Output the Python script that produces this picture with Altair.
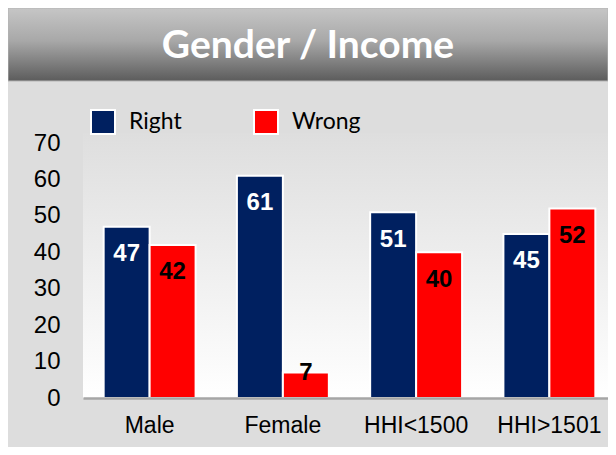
import altair as alt
import pandas as pd

categories = ["Male", "Female", "HHI<1500", "HHI>1501"]
series = ["Right", "Wrong"]
right_values = [47, 61, 51, 45]
wrong_values = [42, 7, 40, 52]
y_ticks = [0, 10, 20, 30, 40, 50, 60, 70]
series_colors = ["#002060", "#FF0000"]
label_colors = ["#FFFFFF", "#000000"]
title_text = "Gender / Income"

rows = []
for c, r, w in zip(categories, right_values, wrong_values):
    rows.append({"category": c, "series": "Right", "value": r})
    rows.append({"category": c, "series": "Wrong", "value": w})
df = pd.DataFrame(rows)

W, H = 525, 255
PLOT_RANGE = 533

x_enc = alt.X("category:N", sort=categories,
              scale=alt.Scale(range=[0, PLOT_RANGE], paddingInner=0.31, paddingOuter=0.155),
              axis=alt.Axis(title=None, labelAngle=0, ticks=False, labelPadding=16,
                            labelFont="Liberation Sans", labelFontSize=23, labelColor="#000000",
                            labelOverlap=False,
                            domainColor="#a6a6a6", domainWidth=2.5, zindex=1))
xoff = alt.XOffset("series:N", sort=series, scale=alt.Scale(paddingInner=0, paddingOuter=0))
y_scale = alt.Scale(domain=[0, 70], nice=False)

base = alt.Chart(df)

bg_grad = alt.Gradient(gradient="linear", x1=0, y1=0, x2=0, y2=1,
                       stops=[alt.GradientStop(offset=0, color="#dedede"),
                              alt.GradientStop(offset=1, color="#ffffff")])
plot_bg = alt.Chart(alt.Data(values=[{}])).mark_rect(color=bg_grad).encode(
    x=alt.value(0), x2=alt.value(PLOT_RANGE - 4), y=alt.value(-10), y2=alt.value(H))

banner_grad = alt.Gradient(gradient="linear", x1=0, y1=0, x2=0, y2=1,
                           stops=[alt.GradientStop(offset=0, color="#c6c6c6"),
                                  alt.GradientStop(offset=0.45, color="#a8a8a8"),
                                  alt.GradientStop(offset=1, color="#5c5c5c")])
banner = alt.Chart(alt.Data(values=[{}])).mark_rect(
    color=banner_grad, stroke="#b4b4b4", strokeWidth=1).encode(
    x=alt.value(-75), x2=alt.value(W), y=alt.value(-135), y2=alt.value(-62))

title = alt.Chart(alt.Data(values=[{"t": title_text}])).mark_text(
    font="Lato", fontWeight="bold", fontSize=39, color="#ffffff",
    align="center", baseline="middle").encode(
    x=alt.value(225), y=alt.value(-97), text="t:N")

y_axis = alt.Axis(title=None, values=y_ticks, ticks=False, domain=False, grid=False,
                  labelOverlap=False, labelFlush=False,
                  labelPadding=23, labelFont="Liberation Sans", labelFontSize=24,
                  labelColor="#000000")

bars = base.mark_bar(stroke="#ffffff", strokeWidth=2).encode(
    x=x_enc,
    xOffset=xoff,
    y=alt.Y("value:Q", scale=y_scale, axis=y_axis),
    color=alt.Color("series:N", sort=series,
                    scale=alt.Scale(domain=series, range=series_colors),
                    legend=alt.Legend(title=None, orient="none", legendX=7, legendY=-34,
                                      direction="horizontal", columns=2, gridAlign="all",
                                      symbolType="square", symbolSize=576,
                                      symbolStrokeColor="#ffffff", symbolStrokeWidth=2,
                                      symbolOpacity=1,
                                      labelFont="Lato", labelFontSize=23, labelColor="#000000",
                                      labelOffset=13, columnPadding=52, padding=0)),
)

labels = base.transform_calculate(
    labelY="datum.value >= 15 ? datum.value - 7.5 : datum.value"
).mark_text(font="Liberation Sans", fontWeight="bold", fontSize=24,
            align="center", baseline="middle").encode(
    x=x_enc,
    xOffset=xoff,
    y=alt.Y("labelY:Q", scale=y_scale, axis=y_axis),
    text=alt.Text("value:Q"),
    color=alt.Color("series:N", scale=alt.Scale(domain=series, range=label_colors), legend=None),
)

chart = alt.layer(plot_bg, banner, title, bars, labels).resolve_scale(
    color="independent"
).properties(
    width=W, height=H,
    autosize=alt.AutoSizeParams(type="none"),
    padding={"left": 75, "top": 135, "right": 0, "bottom": 49},
    background="#dddddd",
).configure_view(stroke=None)

chart.save("out.html", embed_options={"renderer": "svg", "actions": False})
